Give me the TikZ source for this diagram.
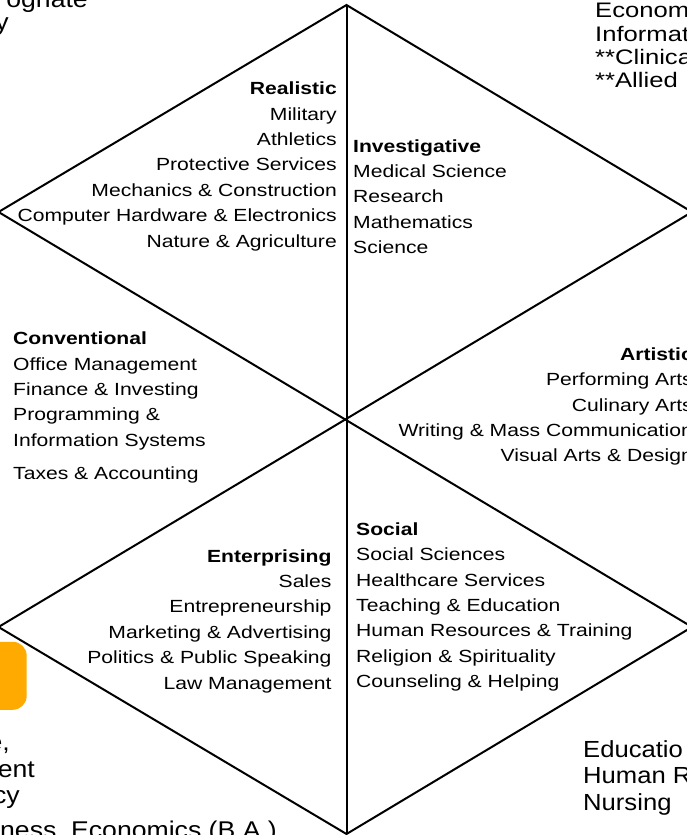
\documentclass[tikz,border=0pt]{standalone}
\usepackage{fontspec}
\usepackage{tikz}
\usetikzlibrary{positioning}
\newfontfamily\hexfont{Liberation Sans}[FakeStretch=1.2]
\newfontfamily\sidefont{Liberation Sans}[FakeStretch=1.1]
\newfontfamily\cornerfont{Liberation Sans}[FakeStretch=1.22]
\definecolor{boxorange}{RGB}{255,170,0}
\tikzset{
  fieldtext/.style = {inner sep=0pt,
    font=\hexfont\fontsize{17.6}{25.4}\selectfont},
  field_r/.style = {fieldtext, align=right, anchor=north east},% right side of a corner
  field_l/.style = {fieldtext, align=left, anchor=north west},% left side of a corner
  side_t/.style = {inner sep=0pt, align=left,
    font=\sidefont\fontsize{23.3}{26.5}\selectfont},
  side_b/.style = {inner sep=0pt, anchor=base east,
    font=\sidefont\fontsize{24.2}{26.5}\selectfont},
  corner_t/.style = {inner sep=0pt, align=left,
    font=\cornerfont\fontsize{21}{23.3}\selectfont},
  hex_edge/.style = {draw=black, line width=2pt}
}

\begin{document}
\begin{tikzpicture}[x=1pt,y=-1pt]
\useasboundingbox (0,0) rectangle (687,835);
\clip (0,0) rectangle (687,835);
% hexagon corners
\coordinate (top) at (346.5,5);
\coordinate (ur) at (692,212);
\coordinate (lr) at (692,627);
\coordinate (bot) at (346.5,834);
\coordinate (ll) at (-1.5,627);
\coordinate (ul) at (-1.5,212);
%
\draw[hex_edge] (top) -- (ur) -- (lr) -- (bot) -- (ll) -- (ul) -- cycle;
\draw[hex_edge] (top) -- (bot);
\draw[hex_edge] (ul) -- (lr);
\draw[hex_edge] (ll) -- (ur);
%
\node (real) [field_r] at (337,81.7) {\textbf{Realistic}\\ Military\\ Athletics\\
  Protective Services\\ Mechanics \& Construction\\
  Computer Hardware \& Electronics\\ Nature \& Agriculture};
\node (inv) [field_l] at (353,139.1) {\textbf{Investigative}\\ Medical Science\\
  Research\\ Mathematics\\ Science};
\node (conv) [field_l] at (13,331.7) {\textbf{Conventional}\\ Office Management\\
  Finance \& Investing\\ Programming \&\\ Information Systems\\[8pt]
  Taxes \& Accounting};
\node (art) [field_r] at (693,347.4) {\textbf{Artistic}\\ Performing Arts\\
  Culinary Arts\\ Writing \& Mass Communication\\ Visual Arts \& Design};
\node (ent) [field_r] at (331.7,549.1) {\textbf{Enterprising}\\ Sales\\
  Entrepreneurship\\ Marketing \& Advertising\\ Politics \& Public Speaking\\
  Law Management};
\node (soc) [field_l] at (356,522.4) {\textbf{Social}\\ Social Sciences\\
  Healthcare Services\\ Teaching \& Education\\ Human Resources \& Training\\
  Religion \& Spirituality\\ Counseling \& Helping};
%
% text of the next slide parts, cut by the frame
\node (tr_list) [corner_t, anchor=north west] at (595,3.3) {Econom\\ Informat\\
  **Clinica\\ **Allied};
\node (tl_a) [side_b] at (88,7) {ognate};
\node (tl_b) [side_b] at (9,30) {y};
\node (br_list) [side_t, anchor=north west] at (583,740.3) {Educatio\\ Human R\\
  Nursing};
\node (bl_a) [side_b] at (10,750) {e,};
\node (bl_b) [side_b] at (35,777) {ent};
\node (bl_c) [side_b] at (20,803) {cy};
\node (bl_d) [side_b] at (277,838) {ness, Economics (B.A.)};
\node (tag) [fill=boxorange, rounded corners=14pt, inner sep=0pt,
  minimum width=48pt, minimum height=68pt] at (2.7,675.8) {};
\end{tikzpicture}
\end{document}
